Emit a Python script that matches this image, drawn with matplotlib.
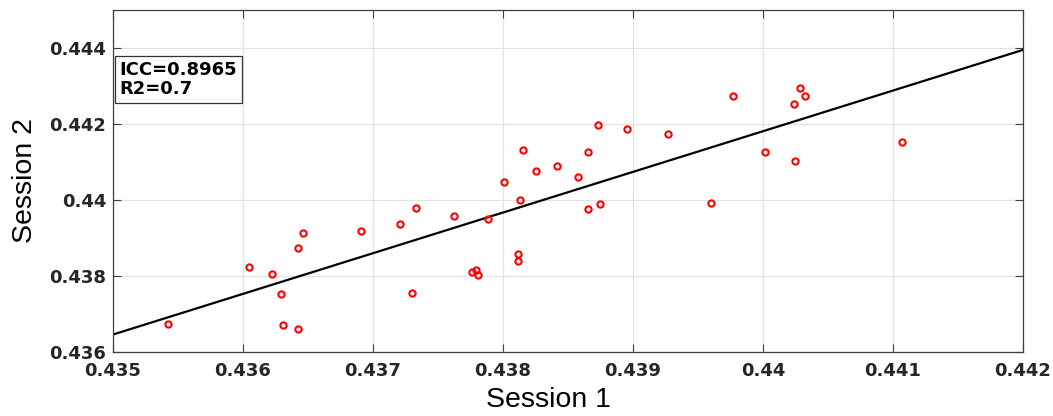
import matplotlib.pyplot as plt
from matplotlib.ticker import FuncFormatter

# Session 1 / Session 2 values
session1 = [0.435426, 0.436050, 0.436222, 0.436291, 0.436311, 0.436424, 0.436422,
            0.436465, 0.436904, 0.437204, 0.437330, 0.437298, 0.437625, 0.437882,
            0.437758, 0.437792, 0.437810, 0.438005, 0.438133, 0.438115, 0.438112,
            0.438156, 0.438251, 0.438418, 0.438574, 0.438657, 0.438731, 0.438955,
            0.439267, 0.438657, 0.438749, 0.439601, 0.440017, 0.439768, 0.440286,
            0.440322, 0.440235, 0.440245, 0.441069]
session2 = [0.436748, 0.438224, 0.438055, 0.437528, 0.436712, 0.436598, 0.438740,
            0.439136, 0.439188, 0.439357, 0.439779, 0.437547, 0.439576, 0.439497,
            0.438108, 0.438171, 0.438021, 0.440480, 0.439997, 0.438567, 0.438408,
            0.441307, 0.440762, 0.440901, 0.440603, 0.441270, 0.441974, 0.441860,
            0.441737, 0.439760, 0.439884, 0.439910, 0.441254, 0.442746, 0.442957,
            0.442746, 0.442527, 0.441033, 0.441518]

# regression line end points
fit_x = [0.435, 0.442]
fit_y = [0.43646, 0.44395]

x_ticks = [0.435, 0.436, 0.437, 0.438, 0.439, 0.440, 0.441, 0.442]
y_ticks = [0.436, 0.438, 0.440, 0.442, 0.444]
stats_text = "ICC=0.8965\nR2=0.7"

fig = plt.figure(figsize=(10.53, 4.16), dpi=100)
ax = fig.add_axes([0.1073, 0.1538, 0.8642, 0.8222])

ax.plot(fit_x, fit_y, color='black', linewidth=1.6, zorder=2)
ax.plot(session1, session2, linestyle='none', marker='o', markersize=4.5,
        markerfacecolor='none', markeredgecolor='red', markeredgewidth=1.5, zorder=3)

ax.set_xlim(0.435, 0.442)
ax.set_ylim(0.436, 0.445)
ax.set_xticks(x_ticks)
ax.set_yticks(y_ticks)
fmt = FuncFormatter(lambda v, pos: '{:g}'.format(round(v, 6)))
ax.xaxis.set_major_formatter(fmt)
ax.yaxis.set_major_formatter(fmt)

ax.grid(True, color='#e3e3e3', linewidth=0.9)
ax.set_axisbelow(True)
ax.tick_params(direction='in', top=True, right=True, length=6, width=0.8,
               colors='#404040', labelcolor='#262626', labelsize=13)
ax.tick_params(axis='x', pad=7)
ax.tick_params(axis='y', pad=5)
for lab in ax.get_xticklabels() + ax.get_yticklabels():
    lab.set_fontweight('bold')
for sp in ax.spines.values():
    sp.set_color('#404040')
    sp.set_linewidth(0.9)

ax.set_xlabel('Session 1', fontsize=20.5, family='Liberation Sans')
ax.xaxis.set_label_coords(0.478, -0.102)
ax.set_ylabel('Session 2', fontsize=20.5, family='Liberation Sans', labelpad=8)

ax.text(0.0075, 0.852, stats_text, transform=ax.transAxes, fontsize=13,
        fontweight='bold', va='top', ha='left', linespacing=1.1,
        bbox=dict(boxstyle='square,pad=0.25', facecolor='white', edgecolor='#333333', linewidth=0.9))

fig.savefig('out.png', dpi=100)
